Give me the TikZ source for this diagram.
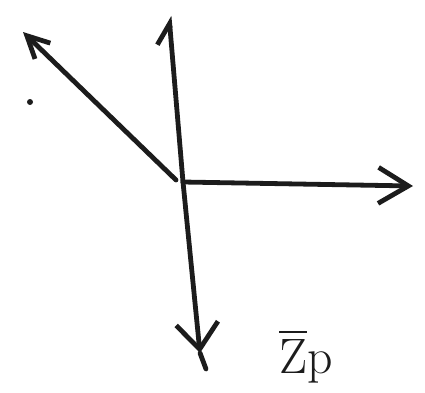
\documentclass[tikz,border=0pt]{standalone}
\usepackage{tikz}
\usetikzlibrary{arrows.meta, positioning, calc}
\usepackage{amsmath, amssymb}
\usepackage{graphicx}
\definecolor{ink}{RGB}{28, 28, 28}

\begin{document}
\begin{tikzpicture}[
  x=1pt, y=-1pt,
  stroke/.style={draw=ink, line width=4.8pt, line cap=round, line join=round},
  inkdot/.style={circle, fill=ink, inner sep=0pt, minimum size=6pt},
  lbl/.style={font=\Huge, text=ink, inner sep=0pt}
]
  \useasboundingbox (0,0) rectangle (425,392);

  % Axis points
  \coordinate (o)     at (183,182);
  \coordinate (dstart) at (176,180);
  \coordinate (up)    at (169,16);
  \coordinate (rt)    at (413,186);
  \coordinate (dn)    at (200,353);
  \coordinate (dend)  at (206,369);
  \coordinate (lu)    at (23,32);

  % Axes
  \draw[stroke, -{Straight Barb[left, length=20pt, width=28pt]}] (o) -- (up);
  \draw[stroke, -{Straight Barb[length=30pt, width=36pt]}] (o) -- (rt);
  \draw[stroke, -{Straight Barb[length=26pt, width=42pt]}] (o) -- (dn);
  \draw[stroke] (dn) -- (dend);
  \draw[stroke, -{Straight Barb[length=22pt, width=22pt]}] (dstart) -- (lu);

  % Stray dot and label
  \node[inkdot] (spot) at (30,102) {};
  \node[lbl, anchor=base] (zp) at (306,373) {\scalebox{2}{$\overline{\mathrm{Z}}\mathrm{p}$}};
\end{tikzpicture}
\end{document}
